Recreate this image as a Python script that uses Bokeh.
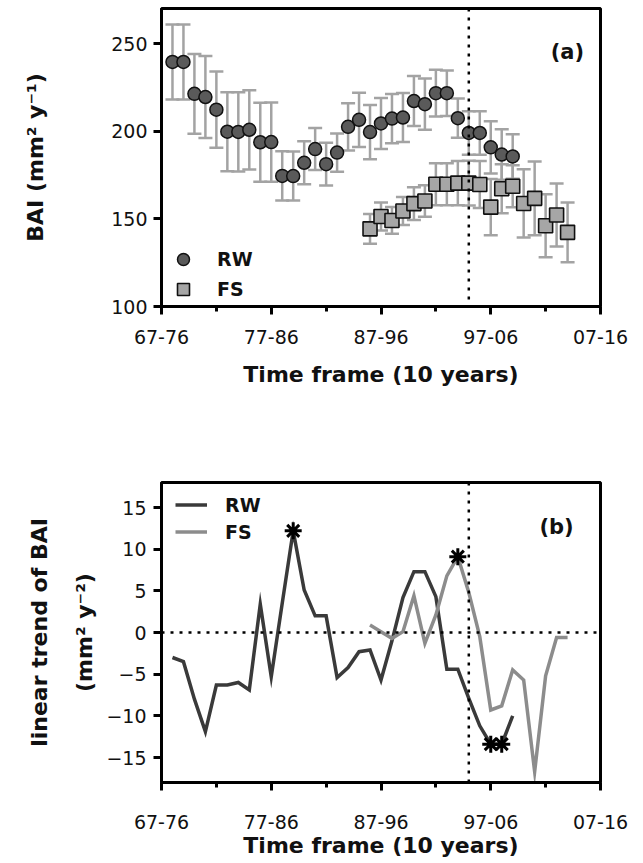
from bokeh.plotting import figure
from bokeh.models import (ColumnDataSource, Whisker, TeeHead, Span, Legend, LegendItem,
                          FixedTicker, Label, Range1d)
from bokeh.layouts import column
from bokeh.embed import file_html
from bokeh.resources import INLINE

# ---------------- data ----------------
tick_pos = [0, 10, 20, 30, 40]
tick_labels = ["67-76", "77-86", "87-96", "97-06", "07-16"]
minor_pos = [5, 15, 25, 35]
break_index = 28

rw_index = list(range(1, 33))
rw_bai = [239.5, 239.5, 221.3, 219.5, 212.3, 199.7, 199.6, 200.8, 193.7, 193.8,
          174.5, 174.4, 182.0, 189.8, 181.2, 187.8, 202.5, 206.5, 199.5, 204.4,
          207.2, 207.8, 217.2, 215.4, 221.7, 221.7, 207.4, 199.0, 199.0, 190.8,
          186.7, 185.6]
rw_err = [21.4, 21.4, 22.8, 23.4, 21.8, 22.5, 22.6, 22.6, 22.6, 22.6,
          14.0, 14.0, 12.3, 12.0, 12.2, 10.9, 13.5, 15.5, 15.5, 14.5,
          14.0, 14.0, 14.3, 14.6, 13.3, 13.0, 11.2, 12.4, 12.4, 14.9,
          14.4, 12.7]

fs_index = list(range(19, 38))
fs_bai = [144.3, 151.3, 149.1, 154.5, 158.7, 160.2, 169.7, 169.7, 170.4, 170.4,
          169.6, 156.7, 167.2, 168.6, 158.8, 161.7, 146.1, 152.2, 142.3]
fs_err = [8.5, 8.0, 7.6, 8.0, 9.3, 9.0, 12.0, 12.0, 12.6, 12.8,
          13.4, 16.0, 14.0, 12.0, 19.5, 21.0, 18.0, 18.0, 17.0]

rw_trend = [-3.0, -3.5, -8.0, -11.9, -6.3, -6.3, -6.0, -6.9, 3.4, -5.3,
            3.5, 12.2, 5.1, 2.0, 2.0, -5.4, -4.2, -2.3, -2.1, -5.7,
            -1.0, 4.2, 7.3, 7.3, 4.3, -4.4, -4.4, -7.9, -11.2, -13.4,
            -13.4, -10.0]
fs_trend = [0.9, 0.1, -0.7, 0.1, 4.4, -1.3, 2.1, 6.8, 9.1, 4.8,
            -0.5, -9.3, -8.8, -4.5, -5.7, -16.7, -5.2, -0.6, -0.6]
rw_sig = [12, 30, 31]
fs_sig = [27]

# ---------------- styling helpers ----------------
FONT = "DejaVu Sans"
TXT = "#111111"


def style(p, yticks, x_std, x_lab_std, y_std, y_lab_std):
    p.outline_line_color = "black"
    p.outline_line_width = 3
    p.xgrid.visible = False
    p.ygrid.visible = False
    p.xaxis.ticker = FixedTicker(ticks=tick_pos, minor_ticks=minor_pos)
    p.xaxis.major_label_overrides = {t: l for t, l in zip(tick_pos, tick_labels)}
    p.yaxis.ticker = FixedTicker(ticks=yticks, minor_ticks=[])
    for ax in (p.xaxis[0], p.yaxis[0]):
        ax.axis_line_width = 3
        ax.axis_line_color = "black"
        ax.major_tick_line_width = 3
        ax.minor_tick_line_width = 3
        ax.major_tick_in = 0
        ax.major_tick_out = 8
        ax.minor_tick_in = 0
        ax.minor_tick_out = 5
        ax.major_label_text_font = FONT
        ax.major_label_text_font_size = "19px"
        ax.major_label_text_color = TXT
        ax.axis_label_text_font = FONT
        ax.axis_label_text_font_style = "bold"
        ax.axis_label_text_font_size = "22px"
        ax.axis_label_text_color = TXT
    p.xaxis.major_label_standoff = x_std
    p.xaxis.axis_label_standoff = x_lab_std
    p.yaxis.major_label_standoff = y_std
    p.yaxis.axis_label_standoff = y_lab_std


# ---------------- panel (a) ----------------
pa = figure(width=643, height=400, output_backend="svg", toolbar_location=None,
            x_range=Range1d(0, 40), y_range=Range1d(100, 270),
            min_border_left=161, min_border_right=35, min_border_top=8,
            min_border_bottom=94)
pa.xaxis.axis_label = "Time frame (10 years)"
pa.yaxis.axis_label = "BAI (mm² y⁻¹)"
style(pa, [100, 150, 200, 250], 15, 15, 6, 60)

src_rw = ColumnDataSource(dict(x=rw_index, y=rw_bai,
                               lo=[m - e for m, e in zip(rw_bai, rw_err)],
                               hi=[m + e for m, e in zip(rw_bai, rw_err)]))
src_fs = ColumnDataSource(dict(x=fs_index, y=fs_bai,
                               lo=[m - e for m, e in zip(fs_bai, fs_err)],
                               hi=[m + e for m, e in zip(fs_bai, fs_err)]))

BAR = "#a3a3a3"
for src in (src_rw, src_fs):
    pa.add_layout(Whisker(base="x", upper="hi", lower="lo", source=src,
                          line_color=BAR, line_width=2.5,
                          upper_head=TeeHead(size=14, line_color=BAR, line_width=2.5),
                          lower_head=TeeHead(size=14, line_color=BAR, line_width=2.5)))

pa.add_layout(Span(location=break_index, dimension="height", line_color="black",
                   line_dash="3 6", line_width=2.5))

r_rw = pa.scatter("x", "y", source=src_rw, marker="circle", size=13,
                  fill_color="#5a5a5a", line_color="#111111", line_width=1.5)
r_fs = pa.scatter("x", "y", source=src_fs, marker="square", size=14,
                  fill_color="#a6a6a6", line_color="#111111", line_width=1.6)

leg_a = Legend(items=[LegendItem(label="RW", renderers=[r_rw]),
                      LegendItem(label="FS", renderers=[r_fs])],
               location=(7, 2), orientation="vertical",
               glyph_width=30, glyph_height=30, label_height=30, spacing=0,
               padding=0, margin=0, label_standoff=19,
               border_line_color=None, background_fill_alpha=0,
               label_text_font=FONT, label_text_font_style="bold",
               label_text_font_size="19px", label_text_color=TXT)
pa.add_layout(leg_a)

pa.add_layout(Label(x=38.5, y=245, text="(a)", text_align="right",
                    text_baseline="middle", text_font=FONT, text_font_style="bold",
                    text_font_size="21px", text_color=TXT))

# ---------------- panel (b) ----------------
pb = figure(width=643, height=463, output_backend="svg", toolbar_location=None,
            x_range=Range1d(0, 40), y_range=Range1d(-18, 18),
            min_border_left=147, min_border_right=43, min_border_top=82,
            min_border_bottom=81)
pb.xaxis.axis_label = "Time frame (10 years)"
pb.yaxis.axis_label = "linear trend of BAI\n(mm² y⁻²)"
pb.yaxis.axis_label_text_line_height = 1.8
style(pb, [-15, -10, -5, 0, 5, 10, 15], 24, 1, 7, 6)

pb.add_layout(Span(location=0, dimension="width", line_color="black",
                   line_dash="3 6", line_width=2.5))
pb.add_layout(Span(location=break_index, dimension="height", line_color="black",
                   line_dash="3 6", line_width=2.5))

l_rw = pb.line(rw_index, rw_trend, line_color="#3a3a3a", line_width=3.5,
               line_join="miter")
l_fs = pb.line(fs_index, fs_trend, line_color="#8c8c8c", line_width=3.5,
               line_join="miter")

sig_x = [rw_index[rw_index.index(i)] for i in rw_sig] + [fs_index[fs_index.index(i)] for i in fs_sig]
sig_y = [rw_trend[rw_index.index(i)] for i in rw_sig] + [fs_trend[fs_index.index(i)] for i in fs_sig]
pb.scatter(sig_x, sig_y, marker="asterisk", size=17, line_color="black", line_width=3)

leg_b = Legend(items=[LegendItem(label="RW", renderers=[l_rw]),
                      LegendItem(label="FS", renderers=[l_fs])],
               location=(14, 237), orientation="vertical",
               glyph_width=32, glyph_height=27, label_height=27, spacing=0,
               padding=0, margin=0, label_standoff=18,
               border_line_color=None, background_fill_alpha=0,
               label_text_font=FONT, label_text_font_style="bold",
               label_text_font_size="19px", label_text_color=TXT)
pb.add_layout(leg_b)

pb.add_layout(Label(x=37.55, y=12.7, text="(b)", text_align="right",
                    text_baseline="middle", text_font=FONT, text_font_style="bold",
                    text_font_size="21px", text_color=TXT))

layout = column(pa, pb, spacing=0)
open("out.html", "w").write(file_html(layout, INLINE))
